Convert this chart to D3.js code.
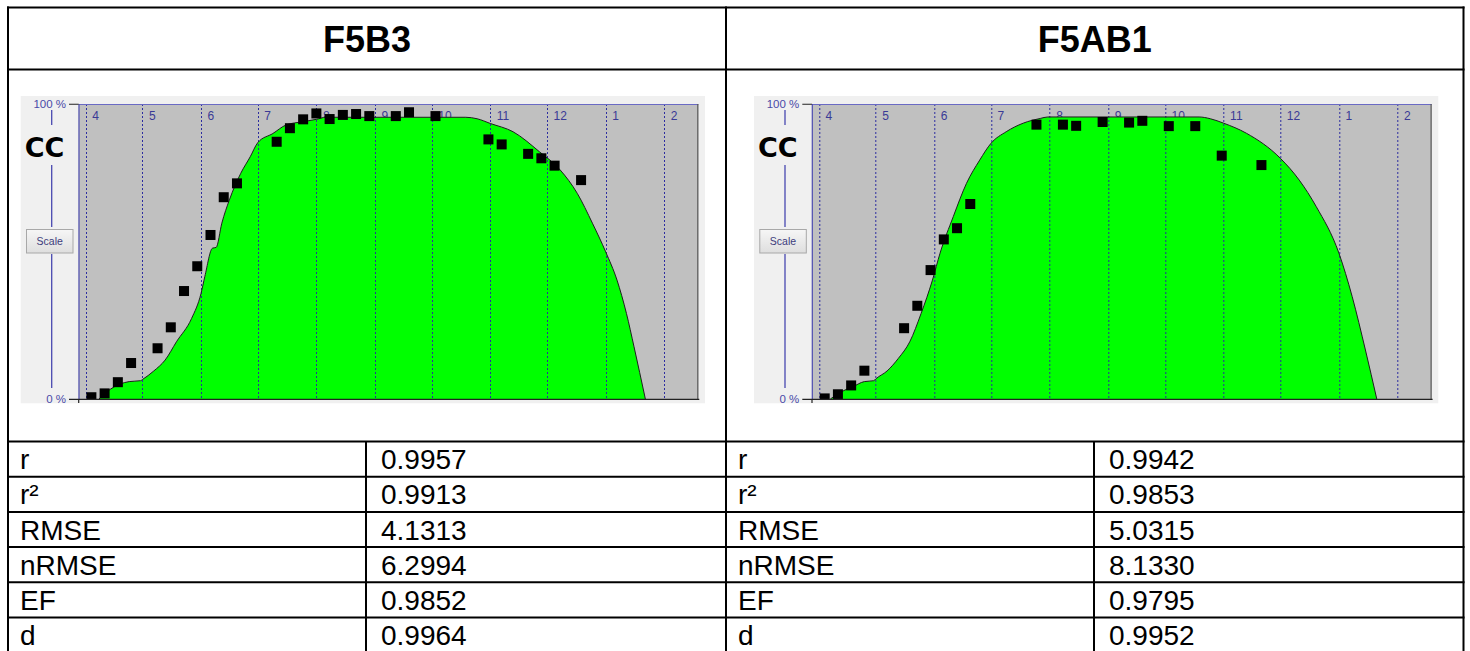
<!DOCTYPE html>
<html>
<head>
<meta charset="utf-8">
<script src="https://cdn.jsdelivr.net/npm/d3@7"></script>
<style>
  html, body { margin: 0; padding: 0; background: #ffffff; }
  svg { display: block; }
</style>
</head>
<body>
<svg id="chart" width="1470" height="651"></svg>
<script>
// ---- data ----------------------------------------------------------------
const panelTitles = ["F5B3", "F5AB1"];

// month boundaries shown as dotted lines, with their labels
const monthStarts = ["2019-04-01", "2019-05-01", "2019-06-01", "2019-07-01", "2019-08-01",
                     "2019-09-01", "2019-10-01", "2019-11-01", "2019-12-01", "2020-01-01", "2020-02-01"];
const monthLabels = ["4", "5", "6", "7", "8", "9", "10", "11", "12", "1", "2"];

// simulated canopy cover (%), F5B3
const simF5B3 = [
  ["2019-04-08", 0], ["2019-04-14", 3.3], ["2019-04-24", 5.9], ["2019-04-30", 6.2],
  ["2019-05-01", 6.6], ["2019-05-07", 9.5], ["2019-05-13", 13.2], ["2019-05-19", 19.4],
  ["2019-05-27", 27.3], ["2019-06-01", 35.8], ["2019-06-03", 41.5], ["2019-06-07", 51.1],
  ["2019-06-09", 51.4], ["2019-06-12", 59.6], ["2019-06-16", 67.5], ["2019-06-22", 76.5],
  ["2019-06-27", 82.1], ["2019-07-01", 86.9], ["2019-07-09", 90.0], ["2019-07-16", 92.9],
  ["2019-07-25", 94.0], ["2019-08-01", 94.8], ["2019-08-06", 95.5], ["2019-10-19", 95.5],
  ["2019-10-25", 95.0], ["2019-11-01", 93.4], ["2019-11-13", 90.6], ["2019-11-27", 83.8],
  ["2019-12-08", 77.6], ["2019-12-17", 69.7], ["2019-12-25", 59.6], ["2020-01-01", 49.9],
  ["2020-01-07", 40.3], ["2020-01-12", 29.0], ["2020-01-16", 17.7], ["2020-01-22", 0]
];
// observed canopy cover (%), F5B3
const obsF5B3 = [
  ["2019-04-04", 0.6], ["2019-04-11", 1.9], ["2019-04-18", 5.7], ["2019-04-25", 12.2],
  ["2019-05-09", 17.2], ["2019-05-16", 24.3], ["2019-05-23", 36.6], ["2019-05-30", 45.0],
  ["2019-06-06", 55.6], ["2019-06-13", 68.4], ["2019-06-20", 73.1], ["2019-07-11", 87.2],
  ["2019-07-18", 91.8], ["2019-07-25", 94.8], ["2019-08-01", 96.8], ["2019-08-08", 94.9],
  ["2019-08-15", 96.3], ["2019-08-22", 96.6], ["2019-08-29", 95.9], ["2019-09-12", 95.9],
  ["2019-09-19", 97.2], ["2019-10-03", 95.9], ["2019-10-31", 88.0], ["2019-11-07", 86.3],
  ["2019-11-21", 83.1], ["2019-11-28", 81.6], ["2019-12-05", 79.1], ["2019-12-19", 74.2]
];

// simulated canopy cover (%), F5AB1
const simF5AB1 = [
  ["2019-04-07", 0], ["2019-04-13", 2.5], ["2019-04-19", 4.2], ["2019-04-25", 5.9],
  ["2019-04-30", 6.2], ["2019-05-01", 6.8], ["2019-05-07", 9.5], ["2019-05-13", 13.8],
  ["2019-05-19", 19.4], ["2019-05-25", 29.0], ["2019-05-31", 40.3], ["2019-06-04", 49.4],
  ["2019-06-11", 61.8], ["2019-06-18", 73.1], ["2019-06-25", 81.0], ["2019-07-01", 86.7],
  ["2019-07-09", 90.6], ["2019-07-18", 93.5], ["2019-07-27", 95.1], ["2019-07-31", 95.6],
  ["2019-10-19", 95.6], ["2019-10-25", 95.0], ["2019-11-01", 93.5], ["2019-11-13", 90.1],
  ["2019-12-01", 81.6], ["2019-12-11", 74.2], ["2019-12-20", 65.2], ["2020-01-01", 49.4],
  ["2020-01-08", 34.7], ["2020-01-15", 16.6], ["2020-01-21", 0]
];
// observed canopy cover (%), F5AB1
const obsF5AB1 = [
  ["2019-04-04", 0.2], ["2019-04-11", 1.6], ["2019-04-18", 4.6], ["2019-04-25", 9.6],
  ["2019-05-16", 24.0], ["2019-05-23", 31.6], ["2019-05-30", 43.7], ["2019-06-06", 54.1],
  ["2019-06-13", 57.9], ["2019-06-20", 66.1], ["2019-07-25", 93.0], ["2019-08-08", 93.0],
  ["2019-08-15", 92.6], ["2019-08-29", 93.9], ["2019-09-12", 93.7], ["2019-09-19", 94.3],
  ["2019-10-03", 92.5], ["2019-10-17", 92.5], ["2019-10-31", 82.5], ["2019-11-21", 79.3]
];

// goodness-of-fit statistics
const statNames  = ["r", "r²", "RMSE", "nRMSE", "EF", "d"];
const statsF5B3  = [0.9957, 0.9913, 4.1313, 6.2994, 0.9852, 0.9964];
const statsF5AB1 = [0.9942, 0.9853, 5.0315, 8.1330, 0.9795, 0.9952];

// ---- drawing -------------------------------------------------------------
const parse = d3.timeParse("%Y-%m-%d");
const svg = d3.select("#chart");
const FONT = "'Liberation Sans', Arial, sans-serif";

const panels = [
  { title: panelTitles[0], sim: simF5B3, obs: obsF5B3, stats: statsF5B3, dx: 0 },
  { title: panelTitles[1], sim: simF5AB1, obs: obsF5AB1, stats: statsF5AB1, dx: 733.3 }
];

// table frame geometry
const tbl = { left: 8, right: 1463.5, top: 7.5, mid: 726, headBottom: 69.5, chartBottom: 441.5, rowH: 35.2 };
const valueCols = [366, 1094];

panels.forEach((p, i) => {
  const g = svg.append("g").attr("transform", `translate(${p.dx},0)`);

  // chart window background
  g.append("rect").attr("x", 20.7).attr("y", 96).attr("width", 684.3).attr("height", 307.3)
    .attr("fill", "#f0f0f0");

  const plot = { x0: 78.7, x1: 698.3, y0: 104, y1: 399 };
  const x = d3.scaleTime()
    .domain([new Date(2019, 2, 28, 7), new Date(2020, 1, 19)])
    .range([plot.x0, plot.x1]);
  const y = d3.scaleLinear().domain([0, 100]).range([plot.y1, plot.y0]);

  const clipId = "clip" + i;
  g.append("clipPath").attr("id", clipId).append("rect")
    .attr("x", plot.x0).attr("y", plot.y0).attr("width", plot.x1 - plot.x0).attr("height", plot.y1 - plot.y0);

  g.append("rect").attr("x", plot.x0).attr("y", plot.y0)
    .attr("width", plot.x1 - plot.x0).attr("height", plot.y1 - plot.y0).attr("fill", "#c0c0c0");

  // month labels (sit beneath the canopy area)
  g.append("g").selectAll("text").data(monthStarts).join("text")
    .attr("x", d => x(parse(d)) + 6.5).attr("y", 119.5)
    .attr("font-family", FONT).attr("font-size", 12).attr("fill", "#3a3a96")
    .text((d, k) => monthLabels[k]);

  const pts = p.sim.map(d => ({ t: parse(d[0]), v: d[1] }));
  const area = d3.area().curve(d3.curveMonotoneX)
    .x(d => x(d.t)).y0(y(0)).y1(d => y(d.v));
  const line = d3.line().curve(d3.curveMonotoneX)
    .x(d => x(d.t)).y(d => y(d.v));

  g.append("path").datum(pts).attr("d", area).attr("fill", "#00ff00").attr("clip-path", `url(#${clipId})`);

  // dotted month lines
  g.append("g").selectAll("line").data(monthStarts).join("line")
    .attr("x1", d => Math.round(x(parse(d))) + 0.5).attr("x2", d => Math.round(x(parse(d))) + 0.5)
    .attr("y1", plot.y0).attr("y2", plot.y1)
    .attr("stroke", "#2c2ca0").attr("stroke-width", 1).attr("stroke-dasharray", "2,2");

  g.append("path").datum(pts).attr("d", line).attr("fill", "none")
    .attr("stroke", "#1e1e1e").attr("stroke-width", 1).attr("clip-path", `url(#${clipId})`);

  // observed points
  const sq = 10;
  g.append("g").attr("clip-path", `url(#${clipId})`).selectAll("rect").data(p.obs).join("rect")
    .attr("x", d => x(parse(d[0])) - sq / 2).attr("y", d => y(d[1]) - sq / 2)
    .attr("width", sq).attr("height", sq).attr("fill", "#000");

  // plot frame
  g.append("line").attr("x1", plot.x0).attr("x2", plot.x1).attr("y1", plot.y0 + 0.5).attr("y2", plot.y0 + 0.5)
    .attr("stroke", "#6a6ac4").attr("stroke-width", 1);
  g.append("line").attr("x1", plot.x0 + 0.3).attr("x2", plot.x0 + 0.3).attr("y1", plot.y0).attr("y2", plot.y1)
    .attr("stroke", "#4c4cb0").attr("stroke-width", 1.2);
  g.append("line").attr("x1", plot.x1 - 0.5).attr("x2", plot.x1 - 0.5).attr("y1", plot.y0).attr("y2", plot.y1)
    .attr("stroke", "#585858").attr("stroke-width", 1.2);
  g.append("line").attr("x1", 69).attr("x2", plot.x1 + 1).attr("y1", plot.y1 + 0.3).attr("y2", plot.y1 + 0.3)
    .attr("stroke", "#222").attr("stroke-width", 1.3);
  g.append("line").attr("x1", 69).attr("x2", plot.x0).attr("y1", plot.y0 + 0.3).attr("y2", plot.y0 + 0.3)
    .attr("stroke", "#444").attr("stroke-width", 1.2);
  g.append("line").attr("x1", plot.x0).attr("x2", plot.x0).attr("y1", plot.y1).attr("y2", plot.y1 + 4)
    .attr("stroke", "#222").attr("stroke-width", 1.2);

  // y extent labels
  [[100, "100 %"], [0, "0 %"]].forEach(([v, s]) => {
    g.append("text").attr("x", 66).attr("y", y(v) + 4)
      .attr("text-anchor", "end").attr("font-family", FONT).attr("font-size", 11.5)
      .attr("fill", "#4a4aa8").text(s);
  });

  // vertical scale bar with the variable name and the Scale button
  [[110, 125], [165, 227], [254, 388]].forEach(([a, b]) => {
    g.append("line").attr("x1", 51.7).attr("x2", 51.7).attr("y1", a).attr("y2", b)
      .attr("stroke", "#4848b0").attr("stroke-width", 1.3);
  });
  g.append("text").attr("x", 44.5).attr("y", 157).attr("text-anchor", "middle")
    .attr("font-family", "'DejaVu Sans', Verdana, sans-serif").attr("font-weight", "bold")
    .attr("font-size", 27).attr("fill", "#000").text("CC");

  const gradId = "btn" + i;
  const grad = g.append("linearGradient").attr("id", gradId).attr("x1", 0).attr("x2", 0).attr("y1", 0).attr("y2", 1);
  grad.append("stop").attr("offset", "0%").attr("stop-color", "#f6f6f6");
  grad.append("stop").attr("offset", "100%").attr("stop-color", "#dedede");
  g.append("rect").attr("x", 26.5).attr("y", 229.5).attr("width", 46.5).attr("height", 23.5)
    .attr("fill", `url(#${gradId})`).attr("stroke", "#a8a8a8").attr("stroke-width", 1);
  g.append("text").attr("x", 49.7).attr("y", 245).attr("text-anchor", "middle")
    .attr("font-family", FONT).attr("font-size", 10.5).attr("fill", "#3c3c7c").text("Scale");

  // title
  const cellL = i === 0 ? tbl.left : tbl.mid;
  const cellR = i === 0 ? tbl.mid : tbl.right;
  svg.append("text").attr("x", (cellL + cellR) / 2).attr("y", 51.5)
    .attr("text-anchor", "middle").attr("font-family", FONT).attr("font-weight", "bold")
    .attr("font-size", 36).attr("fill", "#000").text(p.title);

  // statistics rows
  statNames.forEach((name, k) => {
    const cy = tbl.chartBottom + tbl.rowH * (k + 0.5);
    svg.append("text").attr("x", cellL + 12).attr("y", cy + 10)
      .attr("font-family", FONT).attr("font-size", 28).attr("fill", "#000").text(name);
    svg.append("text").attr("x", valueCols[i] + 15).attr("y", cy + 10)
      .attr("font-family", FONT).attr("font-size", 28).attr("fill", "#000").text(p.stats[k].toFixed(4));
  });
});

// table rules
const rules = svg.append("g").attr("stroke", "#000").attr("stroke-width", 2);
const hLines = [tbl.top, tbl.headBottom, tbl.chartBottom];
for (let k = 1; k <= 5; k++) hLines.push(tbl.chartBottom + tbl.rowH * k);
hLines.forEach(yy => rules.append("line").attr("x1", tbl.left - 1).attr("x2", tbl.right + 1).attr("y1", yy).attr("y2", yy));
[tbl.left, tbl.mid, tbl.right].forEach(xx =>
  rules.append("line").attr("x1", xx).attr("x2", xx).attr("y1", tbl.top - 1).attr("y2", 660));
valueCols.forEach(xx =>
  rules.append("line").attr("x1", xx).attr("x2", xx).attr("y1", tbl.chartBottom).attr("y2", 660));
</script>
</body>
</html>
